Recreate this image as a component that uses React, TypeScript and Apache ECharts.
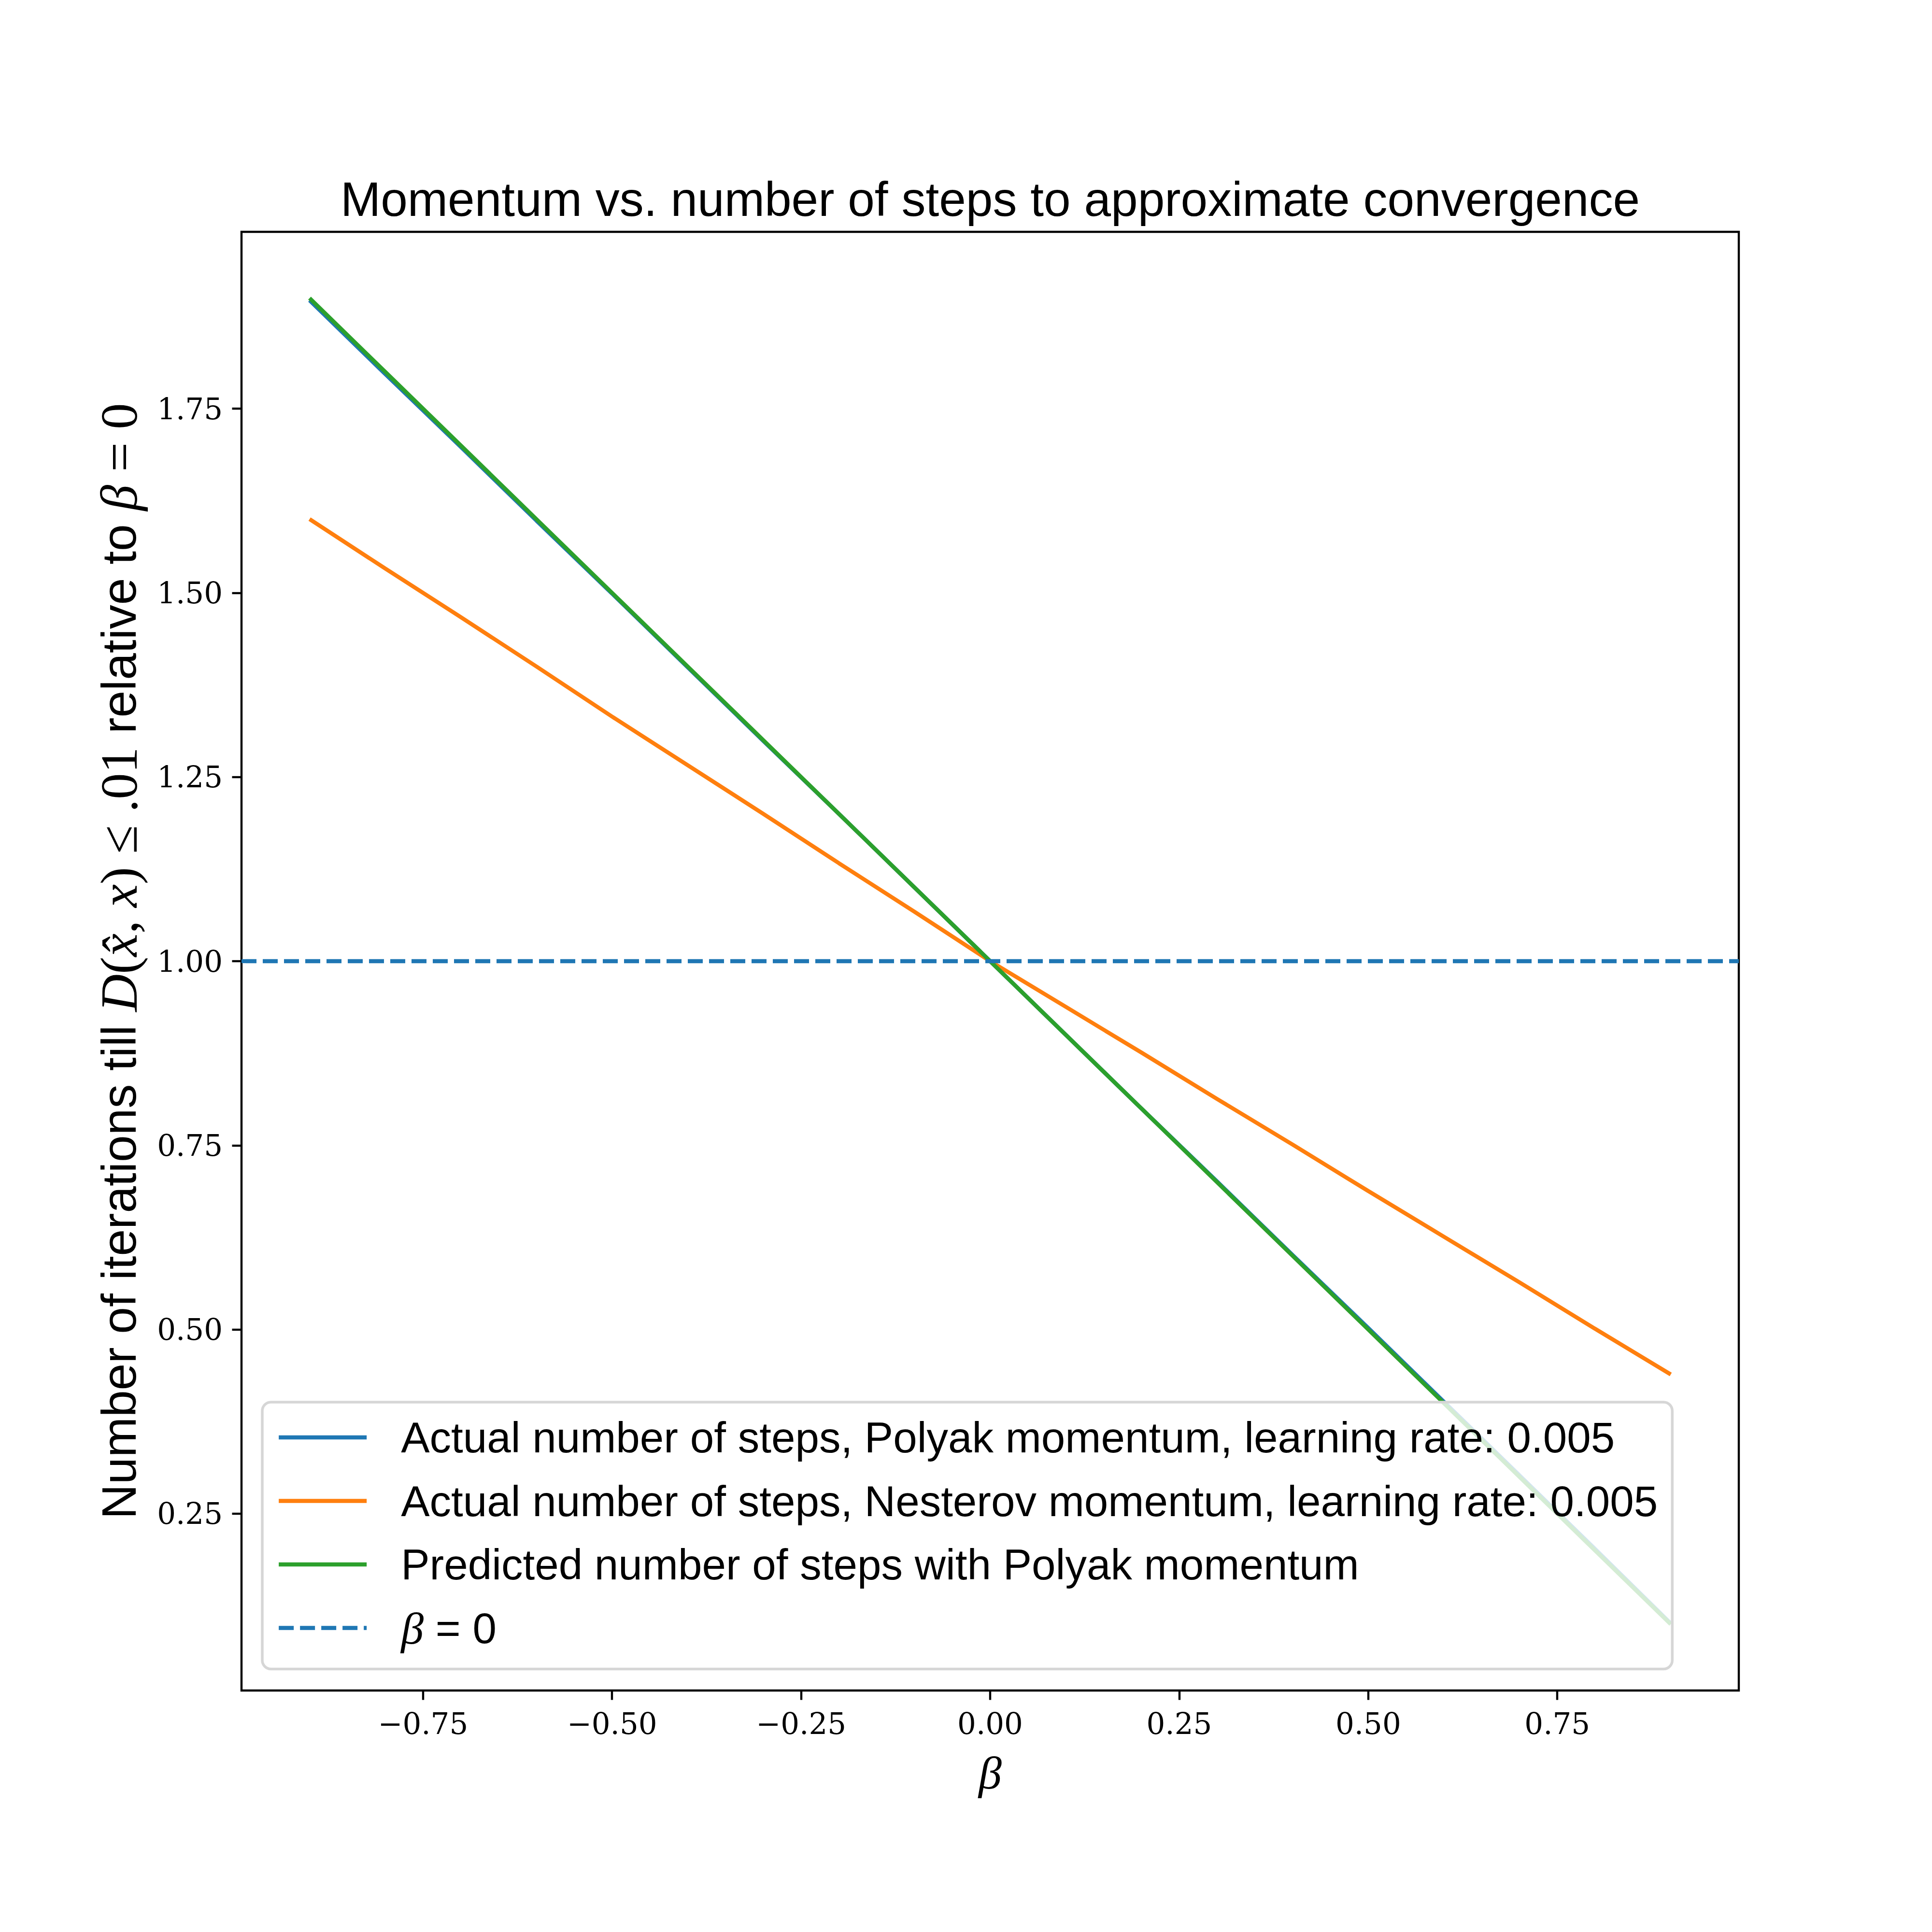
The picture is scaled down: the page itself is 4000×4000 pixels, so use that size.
import React, { useEffect, useRef } from "react";
import * as echarts from "echarts";

// ---- data ----
const betaValues = [-0.9, -0.8, -0.7, -0.6, -0.5, -0.4, -0.3, -0.2, -0.1, 0.0, 0.1, 0.2, 0.3, 0.4, 0.5, 0.6, 0.7, 0.8, 0.9];
const polyakActual = [1.897, 1.797, 1.698, 1.598, 1.499, 1.399, 1.299, 1.2, 1.1, 1.0, 0.9, 0.8, 0.701, 0.601, 0.502, 0.402, 0.302, 0.202, 0.101];
const nesterovActual = [1.6, 1.533, 1.467, 1.4, 1.332, 1.266, 1.2, 1.133, 1.067, 1.0, 0.938, 0.876, 0.813, 0.751, 0.688, 0.626, 0.564, 0.501, 0.439];
const predictedPolyak = [1.9, 1.8, 1.7, 1.6, 1.5, 1.4, 1.3, 1.2, 1.1, 1.0, 0.9, 0.8, 0.7, 0.6, 0.5, 0.4, 0.3, 0.2, 0.1];
const baselineX = [-0.99, 0.99];
const baselineY = [1, 1];

const xTicks = [-0.75, -0.5, -0.25, 0, 0.25, 0.5, 0.75];
const yTicks = [0.25, 0.5, 0.75, 1.0, 1.25, 1.5, 1.75];
const xRange = [-0.99, 0.99];
const yRange = [0.01, 1.99];

const seriesNames = [
  "Actual number of steps, Polyak momentum, learning rate: 0.005",
  "Actual number of steps, Nesterov momentum, learning rate: 0.005",
  "Predicted number of steps with Polyak momentum",
  "β = 0",
];
const seriesColors = ["#1f77b4", "#ff7f0e", "#2ca02c", "#1f77b4"];

const titleText = "Momentum vs. number of steps to approximate convergence";

const SANS = "Liberation Sans";
const SERIF = "Liberation Serif";
const TICKSERIF = "DejaVu Serif";

function pairs(xs: number[], ys: number[]) {
  return xs.map((x, i) => [x, ys[i]]);
}

export default function App() {
  const ref = useRef<HTMLDivElement>(null);
  useEffect(() => {
    if (!ref.current) return;
    const chart = echarts.init(ref.current, null, { renderer: "svg" });
    const LW = 8.3;
    const DASH = [31, 13];
    const lineSeries = (name: string, color: string, data: number[][], dashed = false) => ({
      type: "line",
      name,
      data,
      symbol: "none",
      showSymbol: false,
      smooth: false,
      lineStyle: { color, width: LW, type: dashed ? DASH : "solid", cap: "butt" },
      itemStyle: { color },
      emphasis: { disabled: true },
      z: 2,
    });
    chart.setOption({
      animation: false,
      backgroundColor: "#ffffff",
      title: {
        text: titleText,
        left: 2050,
        textAlign: "center",
        top: 362,
        padding: 0,
        textStyle: { fontFamily: SANS, fontSize: 100, fontWeight: "normal", color: "#000", lineHeight: 100 },
      },
      grid: {
        left: 500,
        right: 400,
        top: 480,
        bottom: 500,
        containLabel: false,
        show: true,
        borderColor: "#000",
        borderWidth: 4.4,
        backgroundColor: "transparent",
      },
      legend: {
        orient: "vertical",
        left: 543,
        top: 2903,
        padding: [23, 30, 35, 30],
        itemGap: 31.5,
        itemWidth: 182,
        itemHeight: 20,
        backgroundColor: "rgba(255,255,255,0.8)",
        borderColor: "#d6d6d6",
        borderWidth: 5.5,
        borderRadius: 18,
        selectedMode: false,
        itemStyle: { opacity: 0 },
        lineStyle: { width: LW, opacity: 1, cap: "butt" },
        data: seriesNames,
        formatter: (name: string) => (name === seriesNames[3] ? "{mi|β} = 0" : name),
        textStyle: {
          fontFamily: SANS,
          fontSize: 89,
          color: "#000",
          lineHeight: 100,
          padding: [0, 0, 0, 66],
          rich: {
            mi: { fontFamily: SERIF, fontStyle: "italic", fontSize: 94, color: "#000", lineHeight: 100 },
          },
        },
      },
      xAxis: {
        type: "value",
        min: xRange[0],
        max: xRange[1],
        name: "β",
        nameLocation: "middle",
        nameGap: 122,
        nameTextStyle: { fontFamily: SERIF, fontStyle: "italic", fontSize: 96, color: "#000", lineHeight: 96 },
        axisLine: { show: false, onZero: false },
        axisTick: { show: true, inside: false, length: 19.5, lineStyle: { color: "#000", width: 4.4 }, customValues: xTicks },
        axisLabel: {
          show: true,
          customValues: xTicks,
          margin: 38,
          fontFamily: TICKSERIF,
          fontSize: 61,
          color: "#000",
          formatter: (v: number) => (v < 0 ? "−" : "") + Math.abs(v).toFixed(2),
        },
        splitLine: { show: false },
      },
      yAxis: {
        type: "value",
        min: yRange[0],
        max: yRange[1],
        name:
          "Number of iterations till {mi|D}{mr|(}{mi|x̂}{mr|, }{mi|x}{mr|) ≤ .01} relative to {mi|β}{mr| = 0}",
        nameLocation: "middle",
        nameRotate: 90,
        nameGap: 198,
        nameTextStyle: {
          fontFamily: SANS,
          fontSize: 100,
          color: "#000",
          lineHeight: 112,
          rich: {
            mi: { fontFamily: SERIF, fontStyle: "italic", fontSize: 108, color: "#000", lineHeight: 112 },
            mr: { fontFamily: SERIF, fontSize: 108, color: "#000", lineHeight: 112 },
          },
        },
        axisLine: { show: false, onZero: false },
        axisTick: { show: true, inside: false, length: 19.5, lineStyle: { color: "#000", width: 4.4 }, customValues: yTicks },
        axisLabel: {
          show: true,
          customValues: yTicks,
          margin: 39,
          fontFamily: TICKSERIF,
          fontSize: 61,
          color: "#000",
          formatter: (v: number) => v.toFixed(2),
        },
        splitLine: { show: false },
      },
      series: [
        lineSeries(seriesNames[0], seriesColors[0], pairs(betaValues, polyakActual)),
        lineSeries(seriesNames[1], seriesColors[1], pairs(betaValues, nesterovActual)),
        lineSeries(seriesNames[2], seriesColors[2], pairs(betaValues, predictedPolyak)),
        lineSeries(seriesNames[3], seriesColors[3], pairs(baselineX, baselineY), true),
      ],
    });
    return () => chart.dispose();
  }, []);
  return <div ref={ref} style={{ position: "absolute", left: 0, top: 0, width: 4000, height: 4000 }} />;
}
